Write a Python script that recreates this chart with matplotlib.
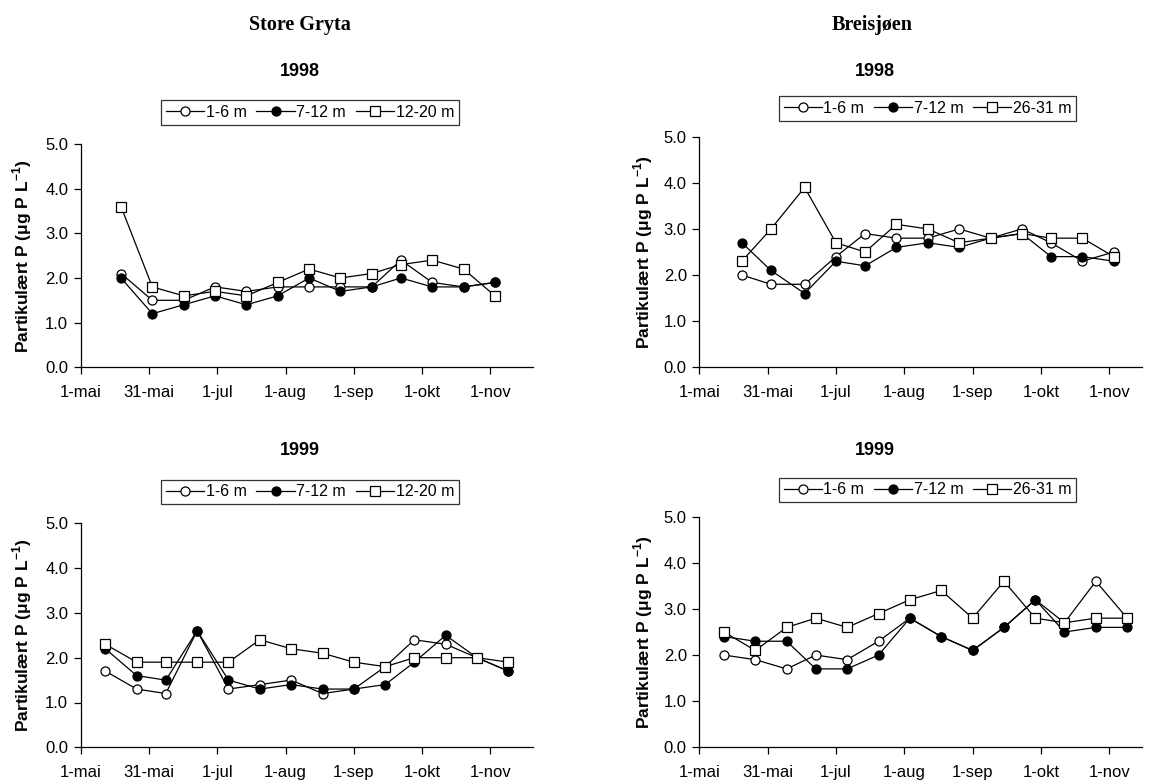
import matplotlib.pyplot as plt

plt.rcParams['font.family'] = ['Liberation Sans', 'DejaVu Sans']

# x = dager etter 1. mai
tick_labels = ['1-mai', '31-mai', '1-jul', '1-aug', '1-sep', '1-okt', '1-nov']
tick_days = [0, 30.5, 61, 91.5, 122, 152.5, 183]

# Store Gryta 1998
sg98_days = [18, 32, 46, 60, 74, 88, 102, 116, 130, 143, 157, 171, 185]
sg98_1_6 = [2.1, 1.5, 1.5, 1.8, 1.7, 1.8, 1.8, 1.8, 1.8, 2.4, 1.9, 1.8, 1.9]
sg98_7_12 = [2.0, 1.2, 1.4, 1.6, 1.4, 1.6, 2.0, 1.7, 1.8, 2.0, 1.8, 1.8, 1.9]
sg98_deep = [3.6, 1.8, 1.6, 1.7, 1.6, 1.9, 2.2, 2.0, 2.1, 2.3, 2.4, 2.2, 1.6]

# Store Gryta 1999
sg99_days = [11, 25, 38, 52, 66, 80, 94, 108, 122, 136, 149, 163, 177, 191]
sg99_1_6 = [1.7, 1.3, 1.2, 2.6, 1.3, 1.4, 1.5, 1.2, 1.3, 1.8, 2.4, 2.3, 2.0, 1.7]
sg99_7_12 = [2.2, 1.6, 1.5, 2.6, 1.5, 1.3, 1.4, 1.3, 1.3, 1.4, 1.9, 2.5, 2.0, 1.7]
sg99_deep = [2.3, 1.9, 1.9, 1.9, 1.9, 2.4, 2.2, 2.1, 1.9, 1.8, 2.0, 2.0, 2.0, 1.9]

# Breisjøen 1998
br98_days = [19, 32, 47, 61, 74, 88, 102, 116, 130, 144, 157, 171, 185]
br98_1_6 = [2.0, 1.8, 1.8, 2.4, 2.9, 2.8, 2.8, 3.0, 2.8, 3.0, 2.7, 2.3, 2.5]
br98_7_12 = [2.7, 2.1, 1.6, 2.3, 2.2, 2.6, 2.7, 2.6, 2.8, 2.9, 2.4, 2.4, 2.3]
br98_deep = [2.3, 3.0, 3.9, 2.7, 2.5, 3.1, 3.0, 2.7, 2.8, 2.9, 2.8, 2.8, 2.4]

# Breisjøen 1999
br99_days = [11, 25, 39, 52, 66, 80, 94, 108, 122, 136, 150, 163, 177, 191]
br99_1_6 = [2.0, 1.9, 1.7, 2.0, 1.9, 2.3, 2.8, 2.4, 2.1, 2.6, 3.2, 2.7, 3.6, 2.8]
br99_7_12 = [2.4, 2.3, 2.3, 1.7, 1.7, 2.0, 2.8, 2.4, 2.1, 2.6, 3.2, 2.5, 2.6, 2.6]
br99_deep = [2.5, 2.1, 2.6, 2.8, 2.6, 2.9, 3.2, 3.4, 2.8, 3.6, 2.8, 2.7, 2.8, 2.8]

W, H = 1149, 784
fig = plt.figure(figsize=(W / 100, H / 100), dpi=100)


def px_axes(x0, y0, x1, y1):
    return fig.add_axes([x0 / W, 1 - y1 / H, (x1 - x0) / W, (y1 - y0) / H])


def panel(ax, days, s1, s2, s3, deep_label, xmax, leg_center):
    kw = dict(color='black', lw=0.9, ms=6.5, mew=0.9, mec='black')
    ax.plot(days, s1, marker='o', mfc='white', label='1-6 m', **kw)
    ax.plot(days, s2, marker='o', mfc='black', label='7-12 m', **kw)
    ax.plot(days, s3, marker='s', mfc='white', label=deep_label, **kw)
    ax.set_xlim(0, xmax)
    ax.set_ylim(0, 5)
    ax.set_yticks([0, 1, 2, 3, 4, 5])
    ax.set_yticklabels(['%.1f' % v for v in [0, 1, 2, 3, 4, 5]])
    ax.set_xticks(tick_days)
    ax.set_xticklabels(tick_labels)
    for s in ['top', 'right']:
        ax.spines[s].set_visible(False)
    for s in ['left', 'bottom']:
        ax.spines[s].set_linewidth(0.9)
    ax.tick_params(direction='out', length=5, width=0.9, labelsize=12, pad=4)
    ax.tick_params(axis='x', pad=8)
    leg = ax.legend(loc='center', bbox_to_anchor=(leg_center[0] / W, 1 - leg_center[1] / H),
                    bbox_transform=fig.transFigure, ncol=3, frameon=True, fancybox=False,
                    edgecolor='black', fontsize=11.5, handlelength=2.4, handletextpad=0.1,
                    columnspacing=0.6, borderpad=0.3, borderaxespad=0)
    leg.get_frame().set_linewidth(0.9)


ax1 = px_axes(80.7, 144, 533, 367.3)
panel(ax1, sg98_days, sg98_1_6, sg98_7_12, sg98_deep, '12-20 m', 202, (310, 112.5))
ax2 = px_axes(699.3, 136.7, 1142, 367.3)
panel(ax2, br98_days, br98_1_6, br98_7_12, br98_deep, '26-31 m', 197.6, (927.5, 108.5))
ax3 = px_axes(80.7, 523.3, 533, 747.3)
panel(ax3, sg99_days, sg99_1_6, sg99_7_12, sg99_deep, '12-20 m', 202, (310, 492))
ax4 = px_axes(699.3, 516.7, 1142, 747.3)
panel(ax4, br99_days, br99_1_6, br99_7_12, br99_deep, '26-31 m', 197.6, (927.5, 490))

# overskrifter
fig.text(300 / W, 1 - 25 / H, 'Store Gryta', family='Liberation Serif', weight='bold',
         fontsize=14.5, ha='center', va='center')
fig.text(872 / W, 1 - 25 / H, 'Breisjøen', family='Liberation Serif', weight='bold',
         fontsize=14.5, ha='center', va='center')
for x, y, t in [(300, 72, '1998'), (875, 72, '1998'), (300, 450, '1999'), (875, 450, '1999')]:
    fig.text(x / W, 1 - y / H, t, weight='bold', fontsize=13, ha='center', va='center')

ylab = r'Partikulært P ($\mathregular{\mu}$g P L$^{\mathregular{-1}}$)'
for x, y in [(22, 256), (643, 252), (22, 635), (643, 632)]:
    fig.text(x / W, 1 - y / H, ylab, weight='bold', fontsize=12.5, rotation=90,
             ha='center', va='center')

fig.savefig('out.png', dpi=100)
